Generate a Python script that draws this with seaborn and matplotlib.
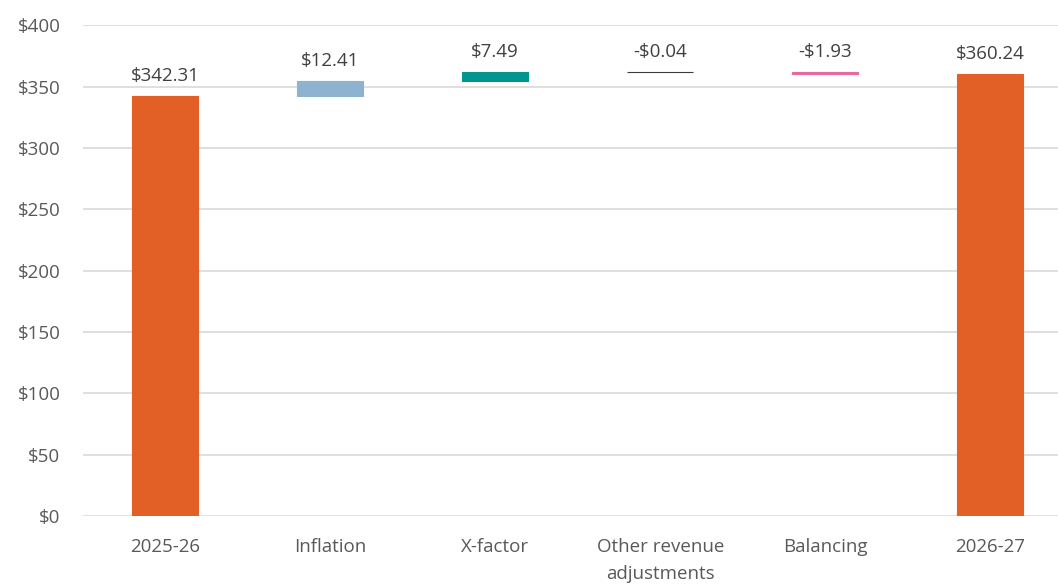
import numpy as np
import pandas as pd
import matplotlib
matplotlib.use('Agg')
import matplotlib.pyplot as plt
import seaborn as sns

# data
categories = ['2025-26', 'Inflation', 'X-factor', 'Other revenue\nadjustments', 'Balancing', '2026-27']
changes = [342.31, 12.41, 7.49, -0.04, -1.93, 360.24]
is_total = [True, False, False, False, False, True]
labels = ['$342.31', '$12.41', '$7.49', '-$0.04', '-$1.93', '$360.24']
colors = ['#E26026', '#8DB3D1', '#00958F', '#3F3A36', '#E8699F', '#E26026']

# waterfall bases / tops
bases, tops = [], []
running = 0.0
for v, tot in zip(changes, is_total):
    if tot:
        bases.append(0.0)
        tops.append(v)
        running = v
    else:
        lo, hi = sorted([running, running + v])
        bases.append(lo)
        tops.append(hi)
        running += v

df = pd.DataFrame({'cat': categories, 'top': tops, 'base': bases})

sns.set_style('white')
plt.rcParams['font.family'] = ['Open Sans', 'DejaVu Sans']
txt = '#595959'

fig = plt.figure(figsize=(10.58, 5.85), dpi=100)
ax = fig.add_axes([0.078, 0.118, 0.922, 0.839])

sns.barplot(data=df, x='cat', y='top', hue='cat', palette=colors, legend=False,
            width=0.4, saturation=1, ax=ax, zorder=3)

for p, b, t, c in zip(ax.patches, bases, tops, colors):
    p.set_y(b)
    p.set_height(t - b)
    p.set_edgecolor(c)
    p.set_linewidth(0.8)

for i, (t, lab) in enumerate(zip(tops, labels)):
    ax.annotate(lab, (i, t), xytext=(0, 14), textcoords='offset points',
                ha='center', va='center', fontsize=13.5, color='#404040')

ax.set_ylim(0, 400)
ax.set_xlim(-0.5, 5.41)
ax.set_yticks(np.arange(0, 401, 50))
ax.set_yticklabels([f'${v}' for v in range(0, 401, 50)])
ax.yaxis.grid(True, color='#D9D9D9', linewidth=1.2, zorder=0)
ax.set_axisbelow(True)
for s in ax.spines.values():
    s.set_visible(False)
ax.tick_params(axis='both', length=0, labelsize=13.5, colors=txt)
ax.tick_params(axis='x', pad=16)
ax.tick_params(axis='y', pad=16)
for t in ax.get_xticklabels():
    t.set_linespacing(1.65)
ax.set_xlabel('')
ax.set_ylabel('')

fig.savefig('out.png', dpi=100)
